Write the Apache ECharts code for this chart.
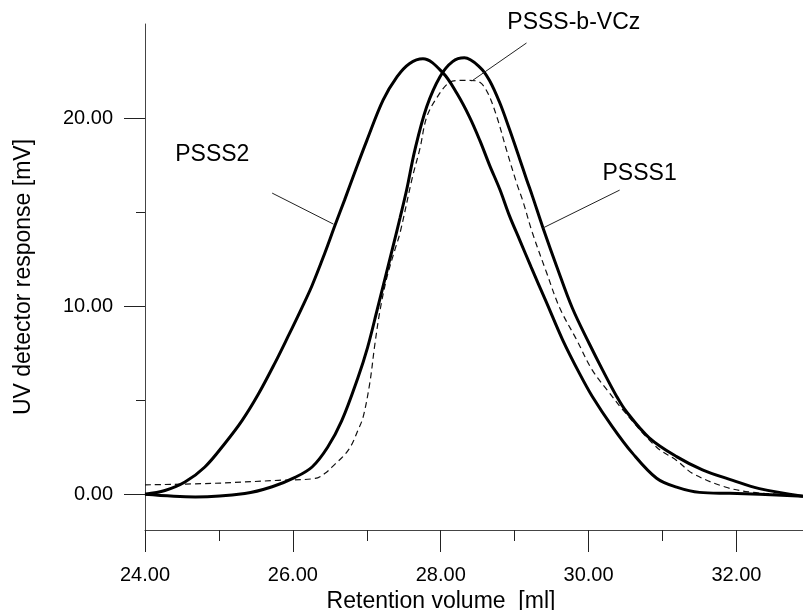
<!DOCTYPE html>
<html>
<head>
<meta charset="utf-8">
<script src="https://cdn.jsdelivr.net/npm/echarts@6/dist/echarts.min.js"></script>
<style>
  html, body { margin: 0; padding: 0; background: #fff; }
  #chart { width: 803px; height: 610px; }
</style>
</head>
<body>
<div id="chart"></div>
<script>
// retention volume [ml], UV response [mV]
const psss1 = [
  [24.00, 0.00], [24.68, -0.14], [25.35, 0.04], [25.72, 0.40], [26.03, 0.90],
  [26.26, 1.45], [26.47, 2.50], [26.66, 3.90], [26.88, 6.20],
  [27.01, 7.80], [27.14, 9.80], [27.35, 13.10], [27.45, 14.70], [27.54, 16.20],
  [27.65, 18.30], [27.81, 20.60], [27.99, 22.20], [28.16, 23.00], [28.32, 23.20],
  [28.53, 22.70], [28.66, 22.00], [28.80, 20.80], [28.93, 19.40], [29.07, 17.80],
  [29.16, 16.75], [29.24, 15.85], [29.38, 14.20], [29.57, 12.10], [29.78, 9.90],
  [30.01, 8.00], [30.19, 6.60], [30.38, 5.20], [30.51, 4.40], [30.82, 3.00],
  [31.19, 2.00], [31.54, 1.30], [31.95, 0.74], [32.31, 0.30], [32.90, -0.10]
];
const psss2 = [
  [24.00, 0.00], [24.27, 0.20], [24.54, 0.65], [24.81, 1.45], [25.08, 2.70],
  [25.31, 3.90], [25.53, 5.30], [25.76, 7.00], [25.93, 8.35], [26.12, 9.90],
  [26.26, 11.10], [26.43, 12.80], [26.57, 14.30], [26.70, 15.65], [26.85, 17.25],
  [27.00, 18.80], [27.22, 20.95], [27.41, 22.20], [27.58, 22.90],
  [27.76, 23.15], [28.03, 22.40], [28.22, 21.30], [28.39, 20.05], [28.53, 18.80],
  [28.66, 17.50], [28.80, 16.20], [28.93, 14.80], [29.07, 13.50], [29.22, 12.10],
  [29.43, 10.20], [29.65, 8.20], [29.88, 6.40], [30.05, 5.20], [30.32, 3.60],
  [30.59, 2.20], [30.92, 0.85], [31.19, 0.38], [31.50, 0.10], [31.91, 0.05],
  [32.31, 0.00], [32.90, -0.10]
];
const psssBVcz = [
  [24.00, 0.50], [24.91, 0.58], [25.80, 0.74], [26.30, 0.84], [26.43, 1.10],
  [26.57, 1.60], [26.70, 2.10], [26.79, 2.60], [26.88, 3.40], [26.95, 4.10],
  [27.04, 5.90], [27.11, 8.00], [27.18, 9.80], [27.27, 11.50], [27.38, 13.00],
  [27.45, 13.90], [27.62, 16.90], [27.72, 18.40], [27.81, 20.05], [27.95, 21.10],
  [28.12, 21.90], [28.26, 22.00], [28.39, 22.00], [28.53, 21.90], [28.64, 21.30],
  [28.76, 20.05], [28.89, 18.30], [29.03, 16.50], [29.11, 15.60], [29.24, 13.90],
  [29.43, 11.80], [29.61, 9.90], [29.84, 8.20], [30.05, 6.60], [30.28, 5.40],
  [30.46, 4.50], [30.92, 2.50], [31.19, 1.80], [31.41, 1.10], [31.86, 0.37],
  [32.22, 0.10], [32.58, 0.00], [32.90, -0.10]
];

const xMajorTicks = [24, 26, 28, 30, 32];
const xMinorTicks = [25, 27, 29, 31];
const yMajorTicks = [0, 10, 20];
const yMinorTicks = [5, 15];

const FONT = "'Liberation Sans', Arial, sans-serif";
const fmt = v => Number(v).toFixed(2);

function pointer(from, to) {
  return [{ coord: from }, { coord: to }];
}

function tag(name, coord, offset) {
  return {
    symbol: 'circle', symbolSize: 0, silent: true,
    label: { show: true, position: 'inside', formatter: '{b}', offset: offset || [0, 0],
      fontFamily: FONT, fontSize: 23, color: '#000' },
    data: [{ name: name, coord: coord }]
  };
}

const chart = echarts.init(document.getElementById('chart'));
chart.setOption({
  animation: false,
  backgroundColor: '#fff',
  grid: { left: 145, right: 0, top: 24, bottom: 80, outerBoundsMode: 'none' },
  xAxis: [{
    type: 'value', min: 24, max: 32.9,
    name: 'Retention volume  [ml]', nameLocation: 'middle', nameGap: 56,
    nameTextStyle: { fontFamily: FONT, fontSize: 23, color: '#000', padding: [0, 66, 0, 0] },
    axisLine: { onZero: false, lineStyle: { color: '#444', width: 1 } },
    axisTick: { customValues: xMajorTicks, length: 22, lineStyle: { color: '#222' } },
    axisLabel: { customValues: xMajorTicks, formatter: fmt, margin: 35,
      fontFamily: FONT, fontSize: 20, color: '#000' },
    splitLine: { show: false }
  }, {
    type: 'value', min: 24, max: 32.9, position: 'bottom',
    axisLine: { show: false, onZero: false },
    axisTick: { customValues: xMinorTicks, length: 11, lineStyle: { color: '#222' } },
    axisLabel: { show: false },
    splitLine: { show: false }
  }],
  yAxis: [{
    type: 'value', min: -1.9, max: 25,
    name: 'UV detector response [mV]', nameLocation: 'middle', nameGap: 110,
    nameTextStyle: { fontFamily: FONT, fontSize: 23, color: '#000' },
    axisLine: { show: true, onZero: false, lineStyle: { color: '#444', width: 1 } },
    axisTick: { show: true, customValues: yMajorTicks, length: 21, lineStyle: { color: '#222' } },
    axisLabel: { customValues: yMajorTicks, formatter: fmt, margin: 32,
      fontFamily: FONT, fontSize: 20, color: '#000' },
    splitLine: { show: false }
  }, {
    type: 'value', min: -1.9, max: 25, position: 'left',
    axisLine: { show: false, onZero: false },
    axisTick: { show: true, customValues: yMinorTicks, length: 9, lineStyle: { color: '#222' } },
    axisLabel: { show: false },
    splitLine: { show: false }
  }],
  series: [{
    name: 'PSSS-b-VCz', type: 'line', data: psssBVcz, showSymbol: false,
    smooth: 0.35, z: 2,
    lineStyle: { color: '#111', width: 1.2, type: [6, 4] },
    markLine: {
      silent: true, symbol: ['none', 'none'], label: { show: false },
      lineStyle: { color: '#222', width: 1, type: 'solid' },
      data: [pointer([29.16, 23.99], [28.42, 21.97])]
    },
    markPoint: tag('PSSS-b-VCz', [29.80, 24.0], [0, -20])
  }, {
    name: 'PSSS2', type: 'line', data: psss2, showSymbol: false,
    smooth: 0.35, z: 3,
    lineStyle: { color: '#000', width: 3 },
    markLine: {
      silent: true, symbol: ['none', 'none'], label: { show: false },
      lineStyle: { color: '#222', width: 1, type: 'solid' },
      data: [pointer([25.72, 16.01], [26.55, 14.36])]
    },
    markPoint: tag('PSSS2', [24.91, 18.03])
  }, {
    name: 'PSSS1', type: 'line', data: psss1, showSymbol: false,
    smooth: 0.35, z: 3,
    lineStyle: { color: '#000', width: 3 },
    markLine: {
      silent: true, symbol: ['none', 'none'], label: { show: false },
      lineStyle: { color: '#222', width: 1, type: 'solid' },
      data: [pointer([30.42, 16.17], [29.38, 14.15])]
    },
    markPoint: tag('PSSS1', [30.69, 17.07])
  }]
});
</script>
</body>
</html>
